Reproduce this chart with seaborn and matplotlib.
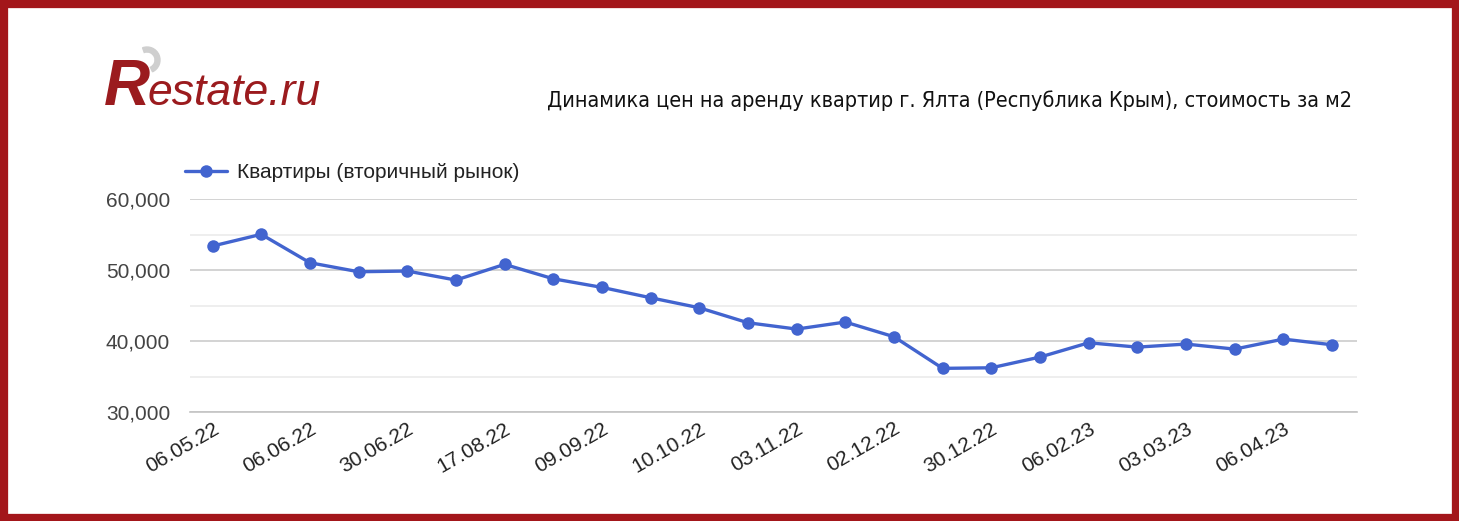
"""Yalta flat rent price dynamics (cost per m2) — restate.ru style chart."""

import numpy as np
import pandas as pd
import matplotlib
matplotlib.use("Agg")
import matplotlib.pyplot as plt
from matplotlib.patches import Rectangle, Wedge
from matplotlib.ticker import FuncFormatter, MultipleLocator
import seaborn as sns

# Tick labels are shown on every second point
TICK_LABELS = ["06.05.22", "06.06.22", "30.06.22", "17.08.22", "09.09.22", "10.10.22",
               "03.11.22", "02.12.22", "30.12.22", "06.02.23", "03.03.23", "06.04.23"]
PRICES = [53380, 55030, 51030, 49760, 49860, 48590, 50800, 48770, 47560, 46100,
          44690, 42580, 41690, 42680, 40610, 36160, 36240, 37750, 39760, 39150,
          39580, 38870, 40280, 39480]
SERIES_NAME = "Квартиры (вторичный рынок)"
TITLE = "Динамика цен на аренду квартир г. Ялта (Республика Крым), стоимость за м2"

LINE_COLOR = "#4264cf"
FRAME_COLOR = "#a3161a"
LOGO_COLOR = "#9b1b1e"

sns.set_theme(style="white")
plt.rcParams["font.family"] = ["Liberation Sans", "DejaVu Sans"]

df = pd.DataFrame({"idx": np.arange(len(PRICES)), "price": PRICES})

fig = plt.figure(figsize=(14.59, 5.21), dpi=100)
ax = fig.add_axes([0.130, 0.209, 0.800, 0.409])

sns.lineplot(data=df, x="idx", y="price", ax=ax, color=LINE_COLOR, linewidth=2.4,
             marker="o", markersize=9, markeredgewidth=0, label=SERIES_NAME)

ax.set_ylim(30000, 60000)
ax.set_xlim(-0.47, 23.51)
ax.yaxis.set_major_locator(MultipleLocator(10000))
ax.yaxis.set_minor_locator(MultipleLocator(5000))
ax.yaxis.set_major_formatter(FuncFormatter(lambda v, _: f"{int(v):,}"))
ax.grid(axis="y", which="major", color="#cccccc", linewidth=1.2)
ax.grid(axis="y", which="minor", color="#ebebeb", linewidth=1.2)
ax.set_axisbelow(True)

ax.set_xticks(np.arange(0, len(PRICES), 2))
ax.set_xticklabels(TICK_LABELS, rotation=30, ha="right", rotation_mode="anchor")
ax.tick_params(axis="x", labelsize=15, colors="#222222", length=0, pad=5)
ax.tick_params(axis="y", labelsize=15, colors="#444444", length=0, pad=14)
ax.set_xlabel("")
ax.set_ylabel("")
for side in ["top", "right", "left"]:
    ax.spines[side].set_visible(False)
ax.spines["bottom"].set_color("#c4c4c4")
ax.spines["bottom"].set_linewidth(1.2)

leg = ax.legend(loc="lower left", bbox_to_anchor=(-0.004, 1.078), frameon=False,
                fontsize=15, handlelength=2.0, handletextpad=0.5, borderaxespad=0,
                borderpad=0)
for t in leg.get_texts():
    t.set_color("#222222")

# title on the right, condensed face
fig.text(0.927, 0.807, TITLE, ha="right", va="center", fontsize=15.5,
         family=["Liberation Sans Narrow", "DejaVu Sans"], stretch="condensed",
         color="#111111")

# logo: grey crescent behind a big R, then the rest of the wordmark
fig.patches.append(Wedge((1.47, 4.61), 0.13, -65, 110, width=0.05,
                         transform=fig.dpi_scale_trans, color="#cfcfcf", zorder=1))
fig.text(0.071, 0.798, "R", ha="left", va="baseline", fontsize=46,
         style="italic", weight="bold", color=LOGO_COLOR, zorder=2)
fig.text(0.101, 0.798, "estate.ru", ha="left", va="baseline", fontsize=32,
         style="italic", color=LOGO_COLOR, zorder=2)

# red frame
fig.patches.append(Rectangle((0.0, 0.0), 1.0, 1.0, transform=fig.transFigure,
                             fill=False, edgecolor=FRAME_COLOR, linewidth=11))

fig.savefig("out.png", dpi=100)
